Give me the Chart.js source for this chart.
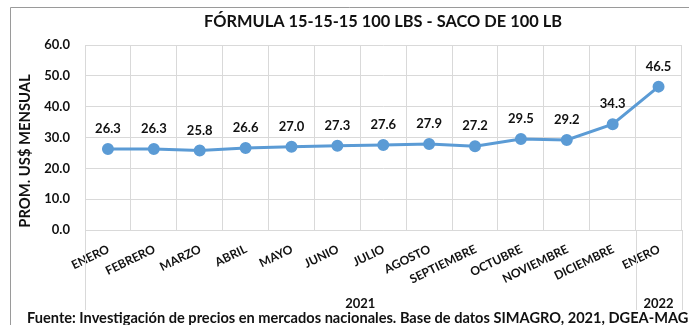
<!DOCTYPE html>
<html>
<head>
<meta charset="utf-8">
<script src="https://cdn.jsdelivr.net/npm/chart.js@4.4.1/dist/chart.umd.min.js"></script>
<style>
  body { margin: 0; background: #fff; }
  canvas { display: block; }
</style>
</head>
<body>
<canvas id="myChart" width="689" height="325"></canvas>
<script>
// months and prices
let months = ['ENERO', 'FEBRERO', 'MARZO', 'ABRIL', 'MAYO', 'JUNIO', 'JULIO',
  'AGOSTO', 'SEPTIEMBRE', 'OCTUBRE', 'NOVIEMBRE', 'DICIEMBRE', 'ENERO'];
let prices = [26.3, 26.3, 25.8, 26.6, 27.0, 27.3, 27.6, 27.9, 27.2, 29.5, 29.2, 34.3, 46.5];
// year groups: label and how many months belong to it
let years = ['2021', '2022'];
let yearCounts = [12, 1];
let yTicks = [0, 10, 20, 30, 40, 50, 60];

let title = 'FÓRMULA 15-15-15 100 LBS - SACO DE 100 LB';
let yTitle = 'PROM. US$ MENSUAL';
let source = 'Fuente: Investigación de precios en mercados nacionales. Base de datos SIMAGRO, 2021, DGEA-MAG';

const FONT = 'Lato, "Open Sans", sans-serif';
const gridColor = '#D9D9D9';
const lineColor = '#5B9BD5';

// labels, titles, year groups and frame drawn by hand
const extras = {
  id: 'extras',
  afterDraw(chart) {
    const ctx = chart.ctx;
    const area = chart.chartArea;
    const x = chart.scales.x;
    ctx.save();

    // outer frame
    ctx.strokeStyle = '#9a9a9a';
    ctx.lineWidth = 1;
    ctx.beginPath();
    ctx.moveTo(10.5, 325);
    ctx.lineTo(10.5, 7.5);
    ctx.lineTo(689, 7.5);
    ctx.stroke();

    // title
    ctx.fillStyle = '#111';
    ctx.font = 'bold 16.4px ' + FONT;
    ctx.textAlign = 'center';
    ctx.textBaseline = 'middle';
    ctx.fillText(title, 383, 22);

    // y axis title
    ctx.save();
    ctx.translate(25, 151);
    ctx.rotate(-Math.PI / 2);
    ctx.font = 'bold 14.8px ' + FONT;
    ctx.fillText(yTitle, 0, 0);
    ctx.restore();

    // value labels
    ctx.font = 'bold 13px ' + FONT;
    const meta = chart.getDatasetMeta(0);
    meta.data.forEach((pt, i) => {
      ctx.fillText(prices[i].toFixed(1), pt.x, pt.y - 20);
    });

    // rotated month labels
    ctx.font = 'bold 12px ' + FONT;
    ctx.textAlign = 'right';
    ctx.textBaseline = 'top';
    months.forEach((m, i) => {
      const px = x.getPixelForValue(i);
      ctx.save();
      ctx.translate(px - 2, area.bottom + 13);
      ctx.rotate(-26 * Math.PI / 180);
      ctx.fillText(m, 0, 0);
      ctx.restore();
    });

    // year separators and labels
    const step = (area.right - area.left) / months.length;
    ctx.strokeStyle = gridColor;
    ctx.font = 'bold 13px ' + FONT;
    ctx.textAlign = 'center';
    ctx.textBaseline = 'middle';
    let start = 0;
    years.forEach((yr, k) => {
      const x0 = area.left + start * step;
      const x1 = x0 + yearCounts[k] * step;
      ctx.beginPath();
      ctx.moveTo(Math.round(x0) + 0.5, area.bottom);
      ctx.lineTo(Math.round(x0) + 0.5, 310);
      ctx.moveTo(Math.round(x1) + 0.5, area.bottom);
      ctx.lineTo(Math.round(x1) + 0.5, 310);
      ctx.stroke();
      ctx.fillText(yr, (x0 + x1) / 2, 304);
      start += yearCounts[k];
    });

    // source
    ctx.textAlign = 'left';
    ctx.font = 'bold 14.6px ' + FONT;
    ctx.fillText(source, 27, 318);

    ctx.restore();
  }
};

let chart = new Chart(document.getElementById('myChart').getContext('2d'), {
  type: 'line',
  data: {
    labels: months,
    datasets: [{
      data: prices,
      borderColor: lineColor,
      backgroundColor: lineColor,
      borderWidth: 3,
      pointRadius: 4.5,
      pointBackgroundColor: lineColor,
      pointBorderColor: lineColor,
      tension: 0
    }]
  },
  options: {
    responsive: false,
    animation: false,
    devicePixelRatio: 1,
    layout: { padding: { left: 10, top: 45, right: 6, bottom: 0 } },
    plugins: {
      legend: { display: false },
      title: { display: false },
      tooltip: { enabled: false }
    },
    scales: {
      x: {
        type: 'category',
        offset: true,
        grid: { offset: true, color: gridColor, drawTicks: false },
        border: { color: gridColor },
        ticks: { display: false },
        afterFit(scale) { scale.height = 95; }
      },
      y: {
        min: 0,
        max: 60,
        afterBuildTicks(scale) { scale.ticks = yTicks.map(v => ({ value: v })); },
        grid: { color: gridColor, drawTicks: false },
        border: { color: gridColor },
        ticks: {
          padding: 15,
          color: '#111',
          font: { family: FONT, size: 13, weight: 'bold' },
          callback: v => v.toFixed(1)
        },
        afterFit(scale) { scale.width = 75; }
      }
    }
  },
  plugins: [extras]
});
</script>
</body>
</html>
